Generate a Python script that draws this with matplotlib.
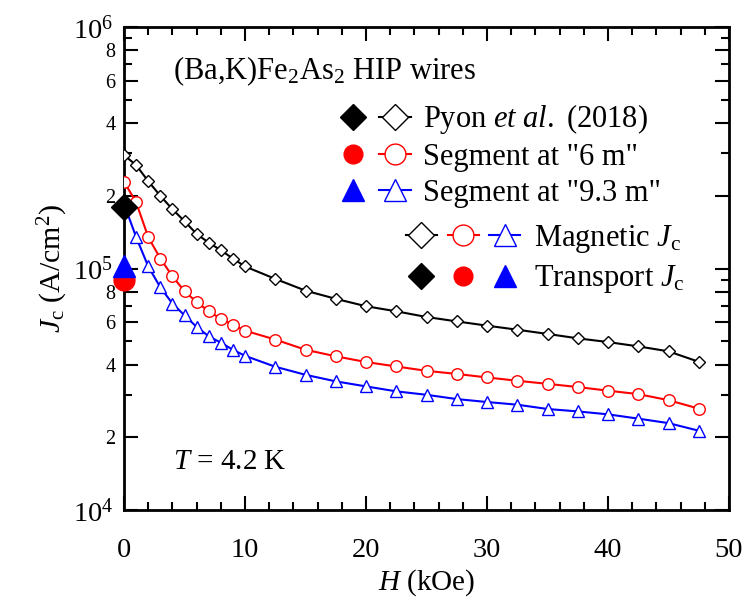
import math
import matplotlib
matplotlib.use('Agg')
import matplotlib.pyplot as plt
from matplotlib.lines import Line2D
from matplotlib.legend_handler import HandlerTuple
from matplotlib.ticker import LogLocator, FuncFormatter, MultipleLocator

plt.rcParams['font.family'] = 'Liberation Serif'
plt.rcParams['mathtext.fontset'] = 'custom'
plt.rcParams['mathtext.rm'] = 'Liberation Serif'
plt.rcParams['mathtext.it'] = 'Liberation Serif:italic'
plt.rcParams['mathtext.bf'] = 'Liberation Serif:bold'

# magnetic Jc vs field (kOe)
H_mag = [0, 1, 2, 3, 4, 5, 6, 7, 8, 9, 10, 12.5, 15, 17.5, 20, 22.5, 25, 27.5,
         30, 32.5, 35, 37.5, 40, 42.5, 45, 47.5]
jc_pyon = [2.95e5, 2.68e5, 2.30e5, 2.00e5, 1.76e5, 1.57e5, 1.39e5, 1.28e5, 1.19e5,
           1.10e5, 1.02e5, 9.06e4, 8.10e4, 7.49e4, 6.98e4, 6.65e4, 6.30e4, 6.04e4,
           5.80e4, 5.58e4, 5.36e4, 5.14e4, 4.96e4, 4.76e4, 4.54e4, 4.11e4]
jc_6m = [2.29e5, 1.88e5, 1.35e5, 1.10e5, 9.29e4, 8.05e4, 7.27e4, 6.65e4, 6.19e4,
         5.86e4, 5.53e4, 5.08e4, 4.61e4, 4.33e4, 4.10e4, 3.93e4, 3.77e4, 3.66e4,
         3.54e4, 3.43e4, 3.33e4, 3.23e4, 3.12e4, 3.02e4, 2.85e4, 2.63e4]
jc_93m = [1.85e5, 1.35e5, 1.02e5, 8.36e4, 7.16e4, 6.40e4, 5.73e4, 5.24e4, 4.93e4,
          4.61e4, 4.35e4, 3.92e4, 3.63e4, 3.41e4, 3.25e4, 3.10e4, 3.00e4, 2.88e4,
          2.80e4, 2.73e4, 2.62e4, 2.56e4, 2.49e4, 2.39e4, 2.29e4, 2.13e4]

# transport Jc at self field
H_tr = [0]
jc_tr_pyon = [1.79e5]
jc_tr_6m = [9.0e4]
jc_tr_93m = [1.02e5]

labels_series = ['Pyon $\\mathit{et\\ al.}$ (2018)', 'Segment at "6 m"', 'Segment at "9.3 m"']
labels_kind = ['Magnetic $J_\\mathrm{c}$', 'Transport $J_\\mathrm{c}$']

RED = '#ff0000'
BLUE = '#0000ff'
FS = 22

fig = plt.figure(figsize=(7.49, 6.01), dpi=100)
ax = fig.add_axes([0.1656, 0.1514, 0.8077, 0.8036])

lw = 1.5
ax.plot(H_mag, jc_93m, '-', color=BLUE, lw=lw, marker='^', ms=8.5, mfc='white', mec=BLUE, mew=1.0, zorder=3)
ax.plot(H_mag, jc_6m, '-', color=RED, lw=lw, marker='o', ms=8.3, mfc='white', mec=RED, mew=1.0, zorder=3)
ax.plot(H_mag, jc_pyon, '-', color='black', lw=lw, marker='D', ms=6.4, mfc='white', mec='black', mew=1.0, zorder=3)

ax.plot(H_tr, jc_tr_6m, 'o', color=RED, ms=15, mec=RED, zorder=5, clip_on=False)
ax.plot(H_tr, jc_tr_93m, '^', color=BLUE, ms=16, mec=BLUE, zorder=6, clip_on=False)
ax.plot(H_tr, jc_tr_pyon, 'D', color='black', ms=13.5, mec='black', zorder=7, clip_on=False)

ax.set_yscale('log')
ax.set_xlim(0, 50)
ax.set_ylim(1e4, 1e6)

ax.xaxis.set_major_locator(MultipleLocator(10))
ax.xaxis.set_minor_locator(MultipleLocator(2))
ax.yaxis.set_major_locator(LogLocator(base=10))
ax.yaxis.set_minor_locator(LogLocator(base=10, subs=(2, 3, 4, 5, 6, 7, 8, 9)))


def minor_digit(v):
    if v <= 0:
        return 0
    return int(round(v / 10 ** math.floor(math.log10(v) + 1e-9)))


def minor_fmt(v, pos):
    m = minor_digit(v)
    return str(m) if m in (2, 4, 6, 8) else ''


ax.yaxis.set_minor_formatter(FuncFormatter(minor_fmt))

ax.tick_params(which='both', direction='in', top=True, right=True, width=1.5)
ax.tick_params(which='major', length=10, labelsize=20.5)
ax.tick_params(axis='x', which='major', pad=20)
ax.tick_params(axis='y', which='major', pad=8)
ax.tick_params(which='minor', length=6)
ax.tick_params(axis='y', which='minor', labelsize=14.5, pad=6)
for s in ax.spines.values():
    s.set_linewidth(2)

ax.set_xlabel('$H$ (kOe)', fontsize=21, labelpad=3)
ax.set_ylabel('$J_\\mathrm{c}$ (A/cm$^2$)', fontsize=21.5, labelpad=2)

ax.text(0.081, 0.9077, '(Ba,K)Fe$_2$As$_2$ HIP wires', transform=ax.transAxes,
        fontsize=FS, ha='left', va='center')
ax.text(0.081, 0.099, '$T$ = 4.2 K', transform=ax.transAxes,
        fontsize=21, ha='left', va='center')

# legend 1: filled + open marker pairs for each sample
h1 = [
    (Line2D([], [], ls='none', marker='D', ms=13.5, color='black'),
     Line2D([], [], ls='-', lw=lw, color='black', marker='D', ms=13.5, mfc='white', mew=1.0)),
    (Line2D([], [], ls='none', marker='o', ms=13.5, color=RED),
     Line2D([], [], ls='-', lw=lw, color=RED, marker='o', ms=15, mfc='white', mew=1.0)),
    (Line2D([], [], ls='none', marker='^', ms=16.5, color=BLUE),
     Line2D([], [], ls='-', lw=lw, color=BLUE, marker='^', ms=16.5, mfc='white', mew=1.0)),
]
leg1 = ax.legend(h1, labels_series, handler_map={tuple: HandlerTuple(ndivide=None, pad=0.33)},
                 loc='center left', bbox_to_anchor=(0.352, 0.735), frameon=False,
                 fontsize=FS, numpoints=1, handlelength=2.42, handletextpad=0.4,
                 labelspacing=0.22, borderpad=0, borderaxespad=0)
ax.add_artist(leg1)

# legend 2: magnetic (open) vs transport (filled)
h2 = [
    (Line2D([], [], ls='-', lw=lw, color='black', marker='D', ms=13.5, mfc='white', mew=1.0),
     Line2D([], [], ls='-', lw=lw, color=RED, marker='o', ms=15, mfc='white', mew=1.0),
     Line2D([], [], ls='-', lw=lw, color=BLUE, marker='^', ms=16.5, mfc='white', mew=1.0)),
    (Line2D([], [], ls='none', marker='D', ms=13.5, color='black'),
     Line2D([], [], ls='none', marker='o', ms=13.5, color=RED),
     Line2D([], [], ls='none', marker='^', ms=16.5, color=BLUE)),
]
ax.legend(h2, labels_kind, handler_map={tuple: HandlerTuple(ndivide=None, pad=0.35)},
          loc='center left', bbox_to_anchor=(0.466, 0.5197), frameon=False,
          fontsize=FS, numpoints=1, handlelength=3.74, handletextpad=0.46,
          labelspacing=0.28, borderpad=0, borderaxespad=0)

# labelled minor ticks on the log axis are a bit longer
fig.canvas.draw()
for t in ax.yaxis.get_minor_ticks():
    if minor_digit(t.get_loc()) in (2, 4, 6, 8):
        t.tick1line.set_markersize(10)
        t.tick2line.set_markersize(10)

fig.savefig('out.png', dpi=100)
